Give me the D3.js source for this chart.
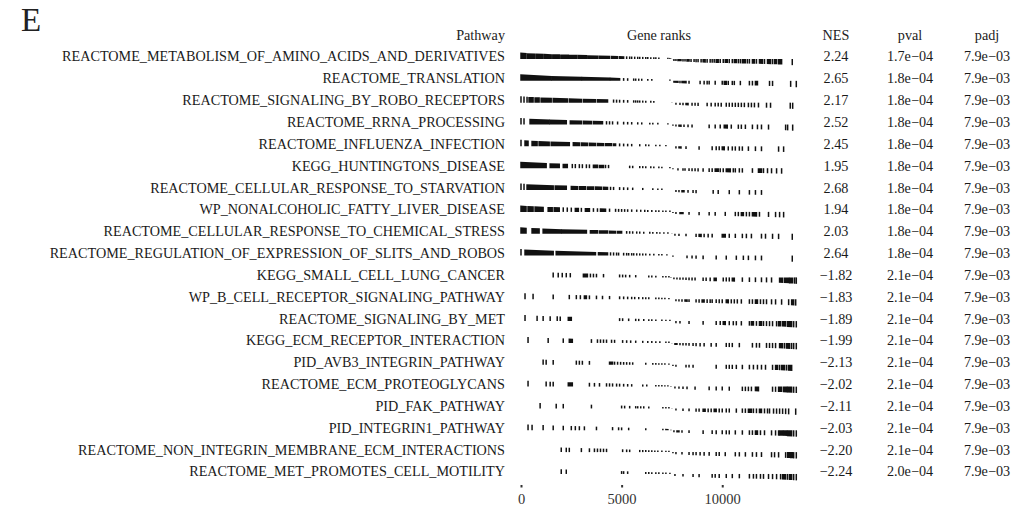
<!DOCTYPE html>
<html>
<head>
<meta charset="utf-8">
<script src="https://cdn.jsdelivr.net/npm/d3@7"></script>
<style>
  body { margin: 0; background: #fff; }
  svg text { font-family: "Liberation Serif", "Times New Roman", serif; }
</style>
</head>
<body>
<svg id="chart" width="1035" height="510"></svg>
<script>
// GSEA table, panel E

const pathways = [
  'REACTOME_METABOLISM_OF_AMINO_ACIDS_AND_DERIVATIVES',
  'REACTOME_TRANSLATION',
  'REACTOME_SIGNALING_BY_ROBO_RECEPTORS',
  'REACTOME_RRNA_PROCESSING',
  'REACTOME_INFLUENZA_INFECTION',
  'KEGG_HUNTINGTONS_DISEASE',
  'REACTOME_CELLULAR_RESPONSE_TO_STARVATION',
  'WP_NONALCOHOLIC_FATTY_LIVER_DISEASE',
  'REACTOME_CELLULAR_RESPONSE_TO_CHEMICAL_STRESS',
  'REACTOME_REGULATION_OF_EXPRESSION_OF_SLITS_AND_ROBOS',
  'KEGG_SMALL_CELL_LUNG_CANCER',
  'WP_B_CELL_RECEPTOR_SIGNALING_PATHWAY',
  'REACTOME_SIGNALING_BY_MET',
  'KEGG_ECM_RECEPTOR_INTERACTION',
  'PID_AVB3_INTEGRIN_PATHWAY',
  'REACTOME_ECM_PROTEOGLYCANS',
  'PID_FAK_PATHWAY',
  'PID_INTEGRIN1_PATHWAY',
  'REACTOME_NON_INTEGRIN_MEMBRANE_ECM_INTERACTIONS',
  'REACTOME_MET_PROMOTES_CELL_MOTILITY'
];
const nes = [2.24, 2.65, 2.17, 2.52, 2.45, 1.95, 2.68, 1.94, 2.03, 2.64,
  -1.82, -1.83, -1.89, -1.99, -2.13, -2.02, -2.11, -2.03, -2.20, -2.24];
const pval = [1.7e-4, 1.8e-4, 1.8e-4, 1.8e-4, 1.8e-4, 1.8e-4, 1.8e-4, 1.8e-4, 1.8e-4, 1.8e-4,
  2.1e-4, 2.1e-4, 2.1e-4, 2.1e-4, 2.1e-4, 2.1e-4, 2.1e-4, 2.1e-4, 2.1e-4, 2.0e-4];
const padj = [7.9e-3, 7.9e-3, 7.9e-3, 7.9e-3, 7.9e-3, 7.9e-3, 7.9e-3, 7.9e-3, 7.9e-3, 7.9e-3,
  7.9e-3, 7.9e-3, 7.9e-3, 7.9e-3, 7.9e-3, 7.9e-3, 7.9e-3, 7.9e-3, 7.9e-3, 7.9e-3];

// gene hit ranks per pathway; "a-b" = dense run of hits between ranks a and b
const geneHits = [
  '0-250 330-700 780-1100 1180-1500 1580-1900 1980-2350 2420-2750 2830-3250 3320-3800 3880-4400 4500-4800 4900-5100 5250 5400 5500 5650 5800 5900 6050 6200 6300 6450 6600 6700 6850 7300 7400-7500 7600 7700 7800-7950 8050 8150 8250-8350 8450 8600 8700 8800 8950 9050-9150 9250 9400 9500 9600 9700-9800 9900 10050 10150-10250 10350 10500 10600-10700 10800 10900 11000-11150 11250 11350 11500-11600 11700 11850-12000 12100 12250-12400 12500 12600-12700 12800-12950 13480',
  '0-1500 1550-3000 3050-4400 4450-4900 5100 5300 5600 5700 5850 6000 6300 6500 7400 7600-7800 7900 8000-8200 8350 8900 9100 9250 9350 9650 10000 10100-10200 10300 10500 10600 10900 11350 11500 11650-11750 12350 12500 13400 13680',
  '0 150 300 400-600 700-900 1000-1500 1600-2300 2400-3000 3100-3700 3800-4300 4600 4750 4900 5100 5300 5600 5700 5800 5900 6050 6200 6450 6600 7500 7700 7900 8050 8200-8300 8500 8650 8800 9250 9450 9650 9800 9950 10200 10350 10500 10650 10800 10950 11100 11300 11450 11600 11800 12200 12400 13380 13500',
  '0 150 450-1400 1450-2250 2450-3000 3100-3500 3600-4050 4250 4400 4550 4800 5100 5300 5500 5800 6000 6400 6550 6800 7300 7550 7700 7850-7950 8100 8300 8500 9350 9650 9900 10100-10250 10450 10800 10950 11150 11500 11750 11950 12300 13150 13250 13500',
  '0 200-350 550-800 900-1400 1500-2400 2600-2900 3000-3300 3400-3700 3800-4100 4200-4500 4600-4700 4900 5100 5300 5500 5900 6200 6350 6700 6900 7200 7700 7850-7950 8200 8850 9500 9700 9850 10000-10100 10300 10500 10650 10850 11000 11300 11650 11950 12800 13050',
  '0-1250 1450-1900 2100-2300 2550 2700 2900 3050 3250 3400 3600-3800 3900-4100 4200 4350 5400 5550 5900 6050 6200 6450 6600 6850 7000 7400 7550 7800 8050 8150 8350 8500 8650 8800 9050 9350 9500 9650-9800 9900 10050 10200-10400 10550 10650 10850 11000 11500 11800-11950 12050 12250 12450 12700 12950',
  '0 150 300-1600 1700-2250 2500-2800 2900-3200 3300-3600 3700-4000 4100-4300 4450 4600 4900 5100 5300 5550 6050 6550 6800 7000 7700 7850 8000-8100 8300 8550 8700 9550 9800 10350 10850 11350 11650 11950',
  '0-250 350-600 700-1100 1350-1550 1650-1900 2100 2300 2500 2700-2850 3000 3200-3400 3600 3800 3950-4200 4400 4700 4850 5000 5150 5300 5500 5750 5950 6150 6300 6500 6700 6850 7050 7200 7400 7550 7700 7900-8050 8350 8850 9350 9650 10150 10650 10800 10950-11050 11200 11350 11500-11700 11850 12300 12650 12850 13050',
  '0-250 550-900 1100-2000 2050-3250 3450-3800 3900-4300 4400-4700 4800-5000 5250 5400 5550 5750 5900 6100 6400 6550 6750 6900 7100 7300 7500 7650 7850 8200 8700 8850-8950 9100 9300 9500 10000-10150 10350 10650 11000 11200 11450 11950 12150 12500 12800 13480',
  '0 200-1600 1750-3700 3850-4300 4450 4600 4750 4850 5100 5250 5350 5500 5600 5750 5900 6050 6200 6400 6600 6850 7000 7250 7550 8250 8500 8700 9050 9700 10200 10700 11050 11300 11650 11950 13480',
  '1600 1850 2050 2250 2450 3100-3300 3450 3600 3750 4100 4900 5050 5200 5400 5700 6350 6500 6700 7050 7200 7350 7450 7600 7750 7900 8050 8200 8350 8500 8650 9050 9200 9400 9600-9700 10050 10200 10350 10500-10600 11000 11350 11650 11950 12200 12450 12850-13000 13100-13300 13350-13500 13600 13680',
  '200 600 1600 2400 2750 2950 3150-3250 3400 3750 4050 4400 4900 5100 5300 5500 5650 5850 6050 6200 6350 6700 6850 7000 7150 7350 7700 7850 8000 8150-8250 8350 8700 8850 9000-9100 9250 9400 9500 9700 9850 10000 10200-10300 10450 10600 10750 10950 11350 11500 11650-11750 11900 12050 12200 12450 12650 12950 13300 13450-13550 13650',
  '200 800 1100 1450 1800 1950 2350-2500 4900 5050 5350 5700 5850 6100 6350 6500 6700 7000 7200 7400 7700 7900 8350 9050 9700 9900 10050-10150 10350 10550 10700 10950 11350 11450-11550 11700 11850-11950 12050 12200 12350 12500 12700 12800-12900 13000-13150 13250-13450 13550 13680',
  '350 1350 2100 2400-2550 3500 3800 3950 4100 4250 4500 4650 5050 5250 5450 5700 6050 6300 6500 6700 6900 7200 7350 7500 7650-7750 7900 8050 8200 8350 8550 8700 8900 9100 9450 9700 10200 10350 10500 10850 11500 11700 11850 12200 12350 12500 12650 12850-13000 13100 13200-13350 13450 13550 13680',
  '1100 1250 1600 2750 2900 3050 3400 4400-4550 4650 4800 4950 5100 5250 5400 5550 6200 6550 6700 6850 7000 7150 7350 7550 7700 8200 8350 8550 9700 10200 10350 10500 10700 11000 11350 11550 11750 11950 12150 12500 12650-12750 12850 12950-13100 13200 13300-13450',
  '350 1250 1450 1600 2350-2550 3400 3650 3900 4250 4400 4550 4750 4900 5100 5300 5500 6050 6250 6700 6850 7000 7150 7300 7450 7650 7850 8050 8250 8650 9350 9700 10000 10350 11000 11150 11300 11450 11650-11800 12500 12650 12800-12950 13050-13200 13250-13450 13550 13680',
  '950 1750 2100 3500 5000 5150 5400 5700 5800 5950 6100 6350 7050 7200 7350 7500 7700 8050 8350 8700 8850 9050-9150 9300 9450 9600-9700 9850 10000 10200 10350 10700 11000 11150 11300-11450 11550 11700 11850-11950 12100 12250 12350 12550 12700 12850 13000 13150 13300 13650',
  '350 550 1100 1600 2100 2500 2700 2900 3150 3750 4550 4850 5000 5350 6200 7050 7200-7300 7450 7600 7750-7850 8000 8350 9050 9500 9700 10000 10200 10350 10650 11000 11350 11500 11650-11750 11900 12100 12450 12650 12800 12850-13000 13050-13200 13250-13450 13550 13680',
  '2000 2250 2400 3000 3400 3650 3800 3950 4100 4250 5050 5250 5400 5900 6050 6200 6350 6500 6650 6800 7000 7200 7350 7550 7700 8000 8350 8550 8700 8900 9100 9350 9700 9850 10150 10650 10850 11150 11500 11700 11950 12450 12600 12800 13150 13250-13350 13400-13500 13550 13680',
  '2000 2250 5000 5100 5300 6200 6350 6500 6700 6850 7050 7200 7400 7650 8050 8550 8850 9500 9650 9850 10200 10500 10850 11350 11550 11700 11900 12050 12300 12500 12700 12900 13000-13150 13250 13350-13450 13550 13680'
];

// ranked gene statistic (scaled to max |stat| = 1), read at a few ranks
const statRanks = [0, 300, 1500, 3000, 4500, 5500, 6500, 7400, 7600, 9000, 10500, 12000, 13000, 13740];
const statValues = [1, 0.9, 0.75, 0.62, 0.5, 0.38, 0.28, 0.2, -0.3, -0.55, -0.65, -0.75, -0.85, -1];

const rankTicks = [0, 5000, 10000];
const nGenes = 13740;

const svg = d3.select('#chart');

// layout
const rowTop = 56.5;
const rowStep = 21.84;
const headerY = 35;
const labelRight = 505;
const colNES = 836, colPval = 910, colPadj = 987;
const fontSize = 14.2;

const x = d3.scaleLinear().domain([0, nGenes]).range([521, 797.5]);
const stat = d3.scaleLinear().domain(statRanks).range(statValues).clamp(true);
const yTick = d3.scaleLinear().domain([-1, 1]).range([6.5, -6.5]);

const fmtNES = d3.format('.2f');
function fmtP(v) {
  // 1.7e-04 style, with a true minus sign
  let [m, e] = v.toExponential(1).split('e');
  let sign = e[0] === '-' ? '\u2212' : '+';
  let ex = Math.abs(+e).toString().padStart(2, '0');
  return m + 'e' + sign + ex;
}

function parseHits(s) {
  return s.split(' ').map((tok) => {
    let p = tok.split('-').map(Number);
    return p.length === 2 ? { a: p[0], b: p[1] } : { a: p[0], b: p[0] };
  });
}

// panel letter
svg.append('text')
  .attr('x', 21).attr('y', 31)
  .attr('font-size', 33)
  .attr('fill', '#222')
  .text('E');

// headers
const header = svg.append('g').attr('font-size', fontSize).attr('fill', '#222');
header.append('text').attr('x', labelRight).attr('y', headerY).attr('dy', '0.35em').attr('text-anchor', 'end').text('Pathway');
header.append('text').attr('x', 659).attr('y', headerY).attr('dy', '0.35em').attr('text-anchor', 'middle').text('Gene ranks');
header.append('text').attr('x', colNES).attr('y', headerY).attr('dy', '0.35em').attr('text-anchor', 'middle').text('NES');
header.append('text').attr('x', colPval).attr('y', headerY).attr('dy', '0.35em').attr('text-anchor', 'middle').text('pval');
header.append('text').attr('x', colPadj).attr('y', headerY).attr('dy', '0.35em').attr('text-anchor', 'middle').text('padj');

// rows
let rows = svg.selectAll('g.row')
  .data(pathways)
  .enter()
  .append('g')
  .attr('class', 'row')
  .attr('transform', (d, i) => 'translate(0,' + (rowTop + i * rowStep) + ')');

rows.append('text')
  .attr('x', labelRight).attr('dy', '0.35em')
  .attr('text-anchor', 'end')
  .attr('font-size', fontSize).attr('fill', '#1a1a1a')
  .text((d) => d);

rows.append('text').attr('x', colNES).attr('dy', '0.35em').attr('text-anchor', 'middle')
  .attr('font-size', fontSize).attr('fill', '#1a1a1a').text((d, i) => fmtNES(nes[i]));
rows.append('text').attr('x', colPval).attr('dy', '0.35em').attr('text-anchor', 'middle')
  .attr('font-size', fontSize).attr('fill', '#1a1a1a').text((d, i) => fmtP(pval[i]));
rows.append('text').attr('x', colPadj).attr('dy', '0.35em').attr('text-anchor', 'middle')
  .attr('font-size', fontSize).attr('fill', '#1a1a1a').text((d, i) => fmtP(padj[i]));

// gene rank ticks: segment from 0 to scaled stat
const tickArea = d3.area()
  .x((d) => x(d.r) + d.dx)
  .y0(yTick(0))
  .y1((d) => yTick(stat(d.r)));

let ticks = rows.append('g')
  .attr('class', 'ticks')
  .attr('transform', 'translate(0,2.5)');

ticks.each(function (d, i) {
  let g = d3.select(this);
  let hits = parseHits(geneHits[i]);
  g.selectAll('line')
    .data(hits.filter((h) => h.a === h.b))
    .enter()
    .append('line')
    .attr('x1', (h) => x(h.a)).attr('x2', (h) => x(h.a))
    .attr('y1', yTick(0)).attr('y2', (h) => yTick(stat(h.a)))
    .attr('stroke', '#111').attr('stroke-width', 1.5);
  g.selectAll('path')
    .data(hits.filter((h) => h.a !== h.b))
    .enter()
    .append('path')
    .attr('d', (h) => tickArea([{ r: h.a, dx: -0.75 }, { r: h.b, dx: 0.75 }]))
    .attr('fill', '#111');
});

// rank axis
const axis = svg.append('g')
  .attr('transform', 'translate(0,485)')
  .call(d3.axisBottom(x).tickValues(rankTicks).tickSize(2.5).tickPadding(6).tickFormat(d3.format('d')));
axis.select('.domain').remove();
axis.selectAll('line').attr('stroke', '#333').attr('stroke-width', 2);
axis.selectAll('text')
  .attr('font-family', '"Liberation Serif", serif')
  .attr('font-size', 14.5)
  .attr('fill', '#333');
</script>
</body>
</html>
